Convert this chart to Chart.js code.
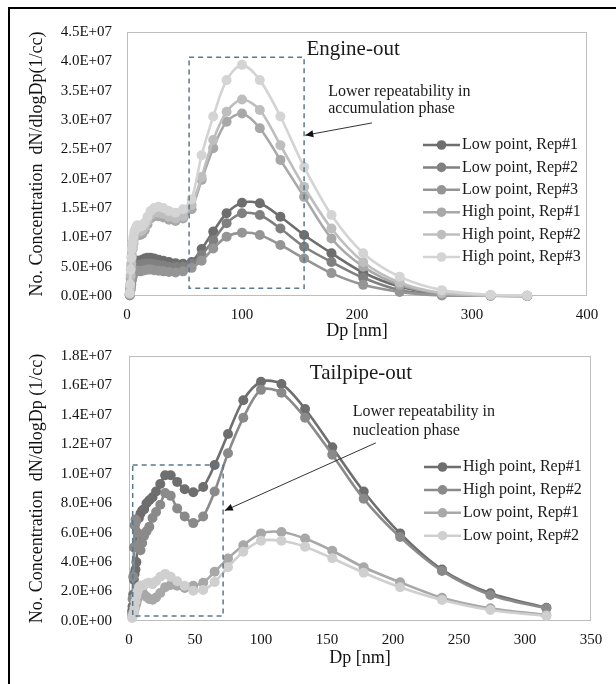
<!DOCTYPE html>
<html lang="en">
<head>
  <meta charset="UTF-8" />
  <title>Engine-out / Tailpipe-out size distributions</title>
  <script src="https://cdn.jsdelivr.net/npm/chart.js@4.4.0/dist/chart.umd.min.js"></script>
  <style>
    html, body { margin: 0; padding: 0; background: #fff; overflow: hidden; }
    #wrap { position: relative; width: 616px; height: 684px; overflow: hidden; }
    canvas { position: absolute; left: 0; display: block; }
    #top { top: 0; }
    #bottom { top: 342px; }
    #frame { position: absolute; left: 8px; top: 7px; width: 700px; height: 800px;
             border-left: 2px solid #000; border-top: 2px solid #000; pointer-events: none; }
  </style>
</head>
<body>
<div id="wrap">
  <canvas id="top" width="616" height="342"></canvas>
  <canvas id="bottom" width="616" height="342"></canvas>
  <div id="frame"></div>
</div>
<script>
  // values are in units of 1E+06 particles/cc
  const UNIT = 1e6;
  const FONT = '"Liberation Serif", "Times New Roman", serif';

  // ---- Engine-out ----
  const engineDp = [2.4, 2.7, 3.2, 3.7, 4.2, 4.9, 5.6, 6.5, 7.5, 8.7, 10, 11.5, 13.3, 15.4, 17.8, 20.5, 23.7, 27.4,
    31.6, 36.5, 42.2, 48.7, 56.2, 64.9, 75, 86.6, 100, 115.5, 133.4, 154, 177.8, 205.4, 237.1, 273.8, 316.2, 348];
  const engineLabels = ['Low point, Rep#1', 'Low point, Rep#2', 'Low point, Rep#3',
    'High point, Rep#1', 'High point, Rep#2', 'High point, Rep#3'];
  const engineLow1 = [0.2, 1, 2, 3, 4, 5, 5.5, 6, 6, 6, 6, 6, 6.2, 6.4, 6.5, 6.5, 6.4, 6.2,
    6, 5.8, 5.6, 5.5, 5.8, 8, 11, 14.1, 15.9, 15.8, 13.5, 10.4, 7.3, 4.0, 1.6, 0.3, 0.1, 0];
  const engineLow2 = [0.2, 0.8, 1.5, 2.5, 3.3, 4.2, 4.8, 5, 5.2, 5.3, 5.3, 5.2, 5.4, 5.5, 5.5, 5.5, 5.4, 5.3,
    5.2, 5, 5, 5, 5.5, 7, 9.5, 12.4, 14.1, 13.8, 11.5, 8.4, 5.8, 3.1, 1.0, 0.2, 0.05, 0];
  const engineLow3 = [0.1, 0.5, 1.2, 2, 2.7, 3.3, 3.8, 4, 4.2, 4.3, 4.3, 4.2, 4.3, 4.4, 4.5, 4.5, 4.4, 4.3,
    4.2, 4.1, 4, 4.2, 4.8, 6, 8.1, 10.1, 10.8, 10.4, 8.7, 6.4, 3.9, 1.9, 0.7, 0.1, 0.03, 0];
  const engineHigh1 = [0.3, 1.2, 3, 5, 6.5, 8, 9, 10, 10.3, 10.5, 10.5, 10.4, 10.6, 11.2, 12.2, 13.2, 13.6, 13.6,
    13.4, 13, 12.8, 13.2, 14.8, 19.8, 25.2, 29.7, 31.1, 28.6, 23.2, 16.9, 9.8, 5.0, 1.9, 0.4, 0.1, 0.05];
  const engineHigh2 = [0.4, 1.5, 3.5, 5.5, 7, 8.5, 9.5, 10.5, 11, 11.2, 11.2, 11, 11.2, 11.8, 12.8, 13.8, 14.2, 14.2,
    14, 13.5, 13.2, 13.6, 15.5, 20.3, 26.6, 31.4, 33.5, 31.7, 25.7, 18.6, 11.5, 5.8, 2.3, 0.5, 0.1, 0.05];
  const engineHigh3 = [0.5, 2, 4.5, 6.5, 8, 9, 10, 11, 11.5, 12, 12, 11.8, 12, 12.5, 13.5, 14.5, 15, 15.2,
    15, 14.5, 14.2, 14.8, 16.5, 24, 30.6, 36.8, 39.4, 36.8, 30.6, 22, 13.8, 7.3, 3.3, 1.0, 0.2, 0.1];
  const engineColors = ['#6e6e6e', '#808080', '#959595', '#a8a8a8', '#bebebe', '#d4d4d4'];

  // ---- Tailpipe-out ----
  const tailDp = [2.4, 2.7, 3.2, 3.7, 4.2, 4.9, 5.6, 6.5, 7.5, 8.7, 10, 11.5, 13.3, 15.4, 17.8, 20.5, 23.7, 27.4,
    31.6, 36.5, 42.2, 48.7, 56.2, 64.9, 75, 86.6, 100, 115.5, 133.4, 154, 177.8, 205.4, 237.1, 273.8, 316.2];
  const tailLabels = ['High point, Rep#1', 'High point, Rep#2', 'Low point, Rep#1', 'Low point, Rep#2'];
  const tailHigh1 = [0.7, 1.0, 1.8, 2.8, 3.2, 3.5, 4.0, 5.5, 7.0, 7.3, 7.5, 7.6, 8.0, 8.2, 8.4, 8.8, 9.3, 9.9,
    9.9, 9.45, 8.95, 8.75, 9.1, 10.6, 12.7, 15.0, 16.25, 16.1, 14.4, 11.8, 8.8, 5.95, 3.5, 1.88, 0.9];
  const tailHigh2 = [0.5, 1.5, 3.0, 5.0, 6.5, 6.9, 6.8, 6.0, 5.2, 4.8, 5.3, 5.8, 6.1, 6.4, 7.0, 7.4, 7.9, 8.7,
    8.5, 7.65, 7.1, 6.65, 7.1, 8.8, 11.4, 13.8, 15.7, 15.5, 13.8, 11.3, 8.3, 5.7, 3.4, 1.77, 0.86];
  const tailLow1 = [0.3, 0.4, 0.5, 0.6, 0.8, 1.0, 1.2, 1.5, 1.9, 2.1, 2.0, 1.8, 1.65, 1.5, 1.45, 1.6, 1.9, 2.3,
    2.45, 2.4, 2.25, 2.4, 2.6, 3.35, 4.25, 5.15, 5.95, 6.05, 5.6, 4.77, 3.65, 2.63, 1.58, 0.86, 0.4];
  const tailLow2 = [0.2, 0.3, 0.4, 0.6, 0.9, 1.3, 1.7, 2.0, 2.3, 2.4, 2.4, 2.45, 2.55, 2.6, 2.5, 2.7, 3.0, 3.2,
    3.0, 2.7, 2.4, 2.05, 2.1, 2.65, 3.65, 4.7, 5.45, 5.45, 5.05, 4.26, 3.28, 2.29, 1.43, 0.75, 0.34];
  const tailColors = ['#6e6e6e', '#8a8a8a', '#a8a8a8', '#cfcfcf'];

  // annotations, in data units (x in nm, y in 1E+06)
  const NOTES = {
    top: {
      title: { text: 'Engine-out', x: 156, y: 42 },
      box: [54, 154, 1.3, 40.7],
      arrow: [213, 29.5, 155, 27.4],
      lines: [{ text: 'Lower repeatability in', x: 175, y: 34.8 },
              { text: 'accumulation phase', x: 175, y: 31.9 }],
      legend: { dx: 164, dy: 113, gap: 22.4 }
    },
    bottom: {
      title: { text: 'Tailpipe-out', x: 137, y: 16.8 },
      box: [2.8, 71.3, 0.34, 10.6],
      arrow: [187, 12.1, 72.6, 7.5],
      lines: [{ text: 'Lower repeatability in', x: 169.5, y: 14.2 },
              { text: 'nucleation phase', x: 169.5, y: 12.95 }],
      legend: { dx: 167, dy: 111, gap: 22.9 }
    }
  };

  function sci(v) {
    const [m, e] = v.toExponential(1).split('e');
    const n = parseInt(e, 10);
    return m + 'E' + (n < 0 ? '-' : '+') + String(Math.abs(n)).padStart(2, '0');
  }

  const plotFrame = {
    id: 'plotFrame',
    beforeDatasetsDraw(chart) {
      const { ctx, chartArea: a } = chart;
      ctx.save();
      ctx.strokeStyle = '#bdbdbd';
      ctx.lineWidth = 1;
      ctx.strokeRect(a.left + 0.5, a.top + 0.5, a.width - 1, a.height - 1);
      ctx.restore();
    }
  };

  const notesPlugin = {
    id: 'notes',
    afterDraw(chart) {
      const n = NOTES[chart.canvas.id];
      const { ctx, chartArea: a } = chart;
      const x = chart.scales.x, y = chart.scales.y;
      const px = v => x.getPixelForValue(v);
      const py = v => y.getPixelForValue(v * UNIT);
      ctx.save();

      // dashed box
      ctx.strokeStyle = '#5a7891';
      ctx.lineWidth = 1.5;
      ctx.setLineDash([5, 4]);
      const [bx0, bx1, by0, by1] = n.box;
      ctx.strokeRect(px(bx0), py(by1), px(bx1) - px(bx0), py(by0) - py(by1));
      ctx.setLineDash([]);

      // arrow
      const [ax0, ay0, ax1, ay1] = n.arrow;
      const x0 = px(ax0), y0 = py(ay0), x1 = px(ax1), y1 = py(ay1);
      ctx.strokeStyle = '#333';
      ctx.fillStyle = '#111';
      ctx.lineWidth = 1;
      ctx.beginPath();
      ctx.moveTo(x0, y0);
      ctx.lineTo(x1, y1);
      ctx.stroke();
      const ang = Math.atan2(y1 - y0, x1 - x0);
      ctx.beginPath();
      ctx.moveTo(x1, y1);
      ctx.lineTo(x1 - 8 * Math.cos(ang) + 3.5 * Math.sin(ang), y1 - 8 * Math.sin(ang) - 3.5 * Math.cos(ang));
      ctx.lineTo(x1 - 8 * Math.cos(ang) - 3.5 * Math.sin(ang), y1 - 8 * Math.sin(ang) + 3.5 * Math.cos(ang));
      ctx.closePath();
      ctx.fill();

      // texts
      ctx.fillStyle = '#1a1a1a';
      ctx.textAlign = 'left';
      ctx.textBaseline = 'middle';
      ctx.font = '21px ' + FONT;
      ctx.fillText(n.title.text, px(n.title.x), py(n.title.y));
      ctx.font = '16px ' + FONT;
      n.lines.forEach(l => ctx.fillText(l.text, px(l.x), py(l.y)));

      // legend: line with marker, label to the right
      const lg = n.legend;
      chart.data.datasets.forEach((ds, i) => {
        const ly = a.top + lg.dy + i * lg.gap;
        const lx = a.right - lg.dx;
        ctx.strokeStyle = ds.borderColor;
        ctx.lineWidth = 2.5;
        ctx.beginPath();
        ctx.moveTo(lx, ly);
        ctx.lineTo(lx + 37, ly);
        ctx.stroke();
        ctx.fillStyle = ds.borderColor;
        ctx.beginPath();
        ctx.arc(lx + 18.5, ly, 4.8, 0, Math.PI * 2);
        ctx.fill();
        ctx.fillStyle = '#1a1a1a';
        ctx.font = '16px ' + FONT;
        ctx.fillText(ds.label, lx + 39, ly);
      });
      ctx.restore();
    }
  };

  function buildChart(id, cfg) {
    const datasets = cfg.series.map((vals, i) => ({
      label: cfg.labels[i],
      data: cfg.dp.map((d, j) => ({ x: d, y: vals[j] * UNIT })),
      borderColor: cfg.colors[i],
      backgroundColor: cfg.colors[i],
      pointBackgroundColor: cfg.colors[i],
      pointBorderWidth: 0,
      pointRadius: 5,
      borderWidth: 2.6,
      tension: 0.3,
      clip: false,
      order: cfg.series.length - i
    }));

    const tickFont = { family: FONT, size: 15 };
    const titleFont = { family: FONT, size: 18 };

    return new Chart(document.getElementById(id), {
      type: 'line',
      data: { datasets },
      options: {
        responsive: false,
        animation: false,
        events: [],
        layout: { padding: { top: cfg.padTop, right: cfg.padRight, left: 0, bottom: 0 } },
        plugins: { legend: { display: false }, tooltip: { enabled: false } },
        scales: {
          x: {
            type: 'linear',
            min: 0,
            max: cfg.xMax,
            ticks: { stepSize: cfg.xStep, padding: 10, color: '#111', font: tickFont },
            grid: { display: false, drawTicks: false },
            border: { display: false },
            title: { display: true, text: 'Dp [nm]', color: '#111', font: titleFont,
                     padding: { top: 0, bottom: cfg.xTitlePad } },
            afterFit: s => { s.height = cfg.xAxisH; }
          },
          y: {
            min: 0,
            max: cfg.yMax,
            // gap between labels and axis comes from the (hidden) tick length,
            // so the tick padding does not push the plot top down
            ticks: { stepSize: cfg.yStep, padding: 4, color: '#111', font: tickFont,
                     callback: v => sci(v) },
            grid: { display: false, drawTicks: true, tickLength: cfg.yTickGap - 4 },
            border: { display: false },
            title: { display: true, text: cfg.yTitle, color: '#111', font: titleFont,
                     padding: { top: 26, bottom: 0 } },
            afterFit: s => { s.width = cfg.yAxisW; }
          }
        }
      },
      plugins: [plotFrame, notesPlugin]
    });
  }

  buildChart('top', {
    dp: engineDp,
    labels: engineLabels,
    series: [engineLow1, engineLow2, engineLow3, engineHigh1, engineHigh2, engineHigh3],
    colors: engineColors,
    xMax: 400, xStep: 100,
    yMax: 45 * UNIT, yStep: 5 * UNIT,
    yTitle: 'No. Concentration  dN/dlogDp(1/cc)',
    padTop: 32, padRight: 29,
    xAxisH: 46, xTitlePad: 0,
    yAxisW: 127, yTickGap: 15
  });

  buildChart('bottom', {
    dp: tailDp,
    labels: tailLabels,
    series: [tailHigh1, tailHigh2, tailLow1, tailLow2],
    colors: tailColors,
    xMax: 350, xStep: 50,
    yMax: 18 * UNIT, yStep: 2 * UNIT,
    yTitle: 'No. Concentration  dN/dlogDp (1/cc)',
    padTop: 14, padRight: 25,
    xAxisH: 63, xTitlePad: 15,
    yAxisW: 129, yTickGap: 17
  });
</script>
</body>
</html>
